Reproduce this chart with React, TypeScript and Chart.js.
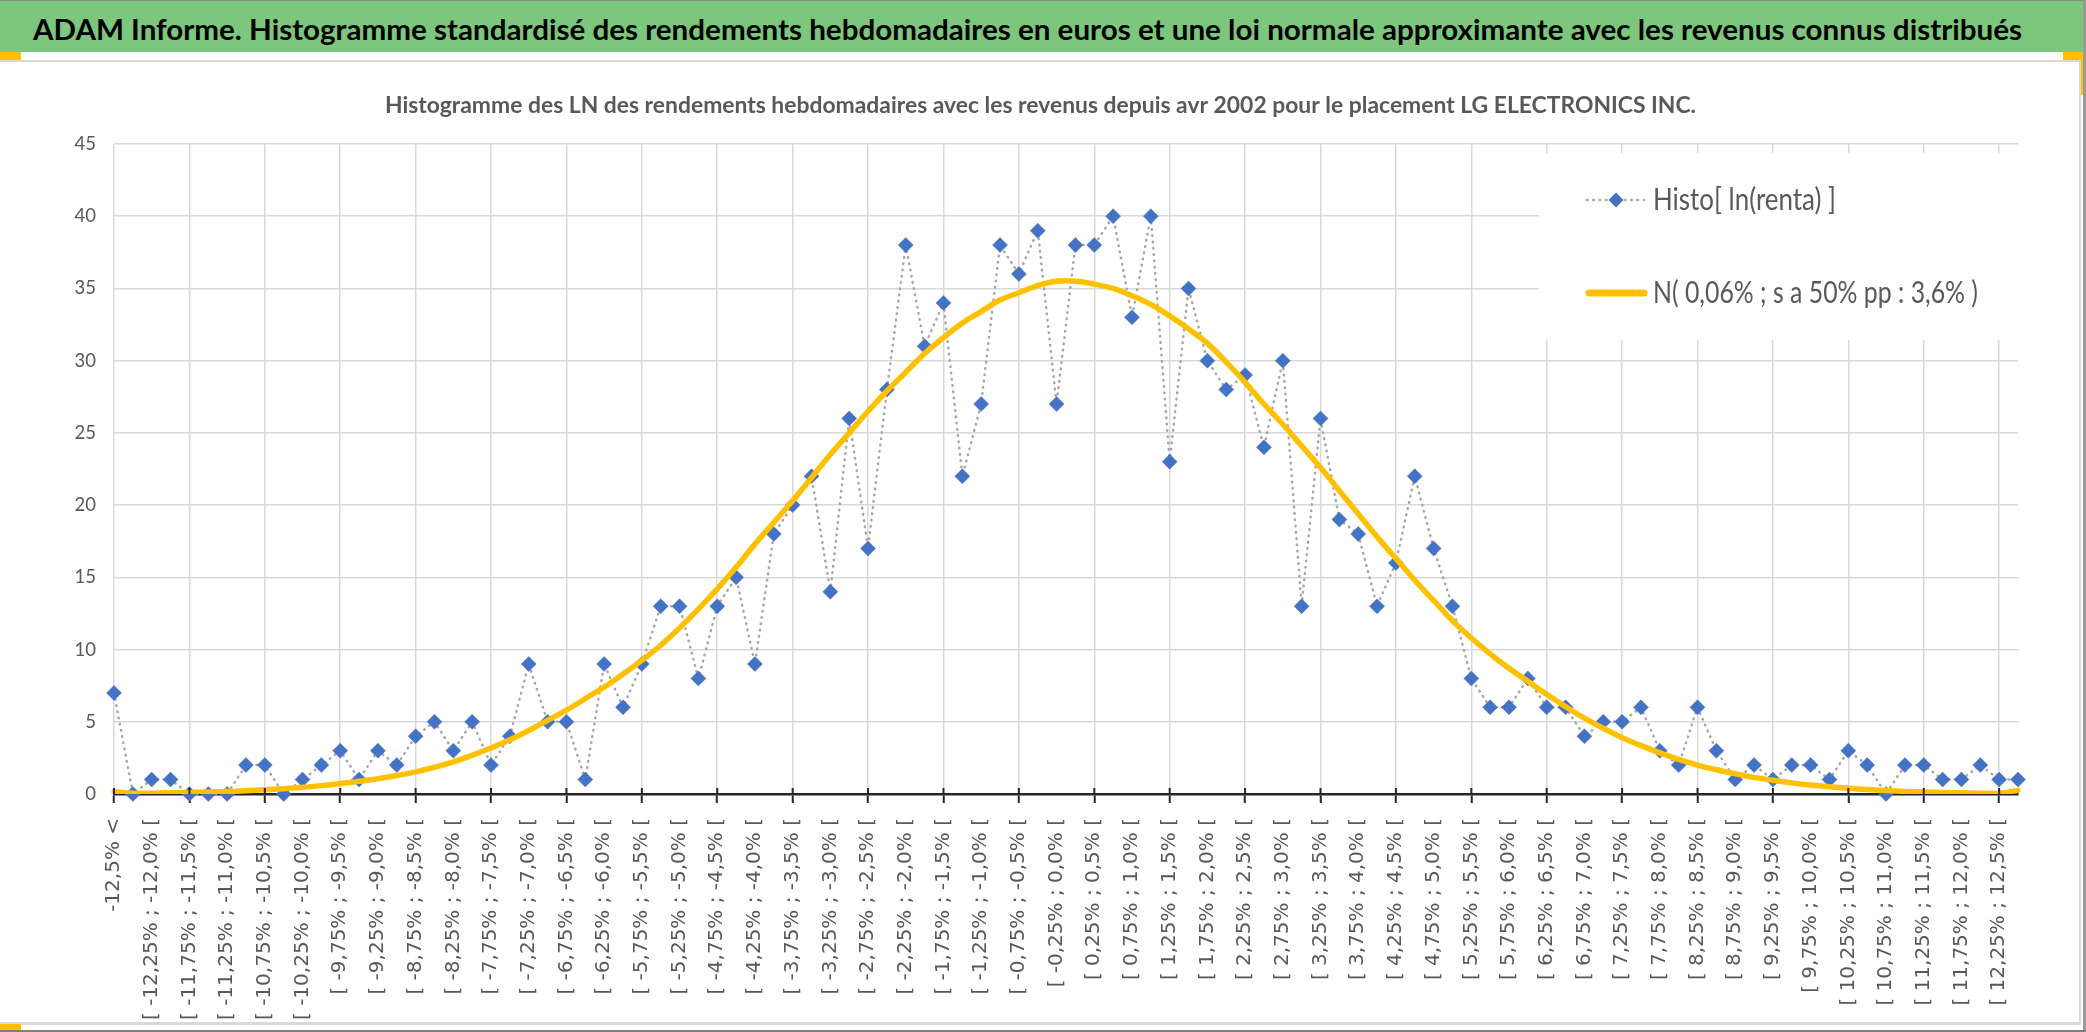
import React, { useEffect, useRef } from 'react';
import { Chart, registerables } from 'chart.js';

Chart.register(...registerables);

const TITLE =
  'ADAM Informe. Histogramme standardisé des rendements hebdomadaires en euros et une loi normale approximante avec les revenus connus distribués';
const SUBTITLE =
  'Histogramme des LN des rendements hebdomadaires avec les revenus depuis avr 2002 pour le placement LG ELECTRONICS INC.';
const SERIES_HISTO = 'Histo[ ln(renta) ]';
const SERIES_NORMAL = 'N( 0,06% ; s a 50% pp : 3,6% )';

const categories: string[] = [
  '-12,5% <',
  '[ -12,5% ; -12,25% [', '[ -12,25% ; -12,0% [', '[ -12,0% ; -11,75% [', '[ -11,75% ; -11,5% [',
  '[ -11,5% ; -11,25% [', '[ -11,25% ; -11,0% [', '[ -11,0% ; -10,75% [', '[ -10,75% ; -10,5% [',
  '[ -10,5% ; -10,25% [', '[ -10,25% ; -10,0% [', '[ -10,0% ; -9,75% [', '[ -9,75% ; -9,5% [',
  '[ -9,5% ; -9,25% [', '[ -9,25% ; -9,0% [', '[ -9,0% ; -8,75% [', '[ -8,75% ; -8,5% [',
  '[ -8,5% ; -8,25% [', '[ -8,25% ; -8,0% [', '[ -8,0% ; -7,75% [', '[ -7,75% ; -7,5% [',
  '[ -7,5% ; -7,25% [', '[ -7,25% ; -7,0% [', '[ -7,0% ; -6,75% [', '[ -6,75% ; -6,5% [',
  '[ -6,5% ; -6,25% [', '[ -6,25% ; -6,0% [', '[ -6,0% ; -5,75% [', '[ -5,75% ; -5,5% [',
  '[ -5,5% ; -5,25% [', '[ -5,25% ; -5,0% [', '[ -5,0% ; -4,75% [', '[ -4,75% ; -4,5% [',
  '[ -4,5% ; -4,25% [', '[ -4,25% ; -4,0% [', '[ -4,0% ; -3,75% [', '[ -3,75% ; -3,5% [',
  '[ -3,5% ; -3,25% [', '[ -3,25% ; -3,0% [', '[ -3,0% ; -2,75% [', '[ -2,75% ; -2,5% [',
  '[ -2,5% ; -2,25% [', '[ -2,25% ; -2,0% [', '[ -2,0% ; -1,75% [', '[ -1,75% ; -1,5% [',
  '[ -1,5% ; -1,25% [', '[ -1,25% ; -1,0% [', '[ -1,0% ; -0,75% [', '[ -0,75% ; -0,5% [',
  '[ -0,5% ; -0,25% [', '[ -0,25% ; 0,0% [', '[ 0,0% ; 0,25% [', '[ 0,25% ; 0,5% [',
  '[ 0,5% ; 0,75% [', '[ 0,75% ; 1,0% [', '[ 1,0% ; 1,25% [', '[ 1,25% ; 1,5% [',
  '[ 1,5% ; 1,75% [', '[ 1,75% ; 2,0% [', '[ 2,0% ; 2,25% [', '[ 2,25% ; 2,5% [',
  '[ 2,5% ; 2,75% [', '[ 2,75% ; 3,0% [', '[ 3,0% ; 3,25% [', '[ 3,25% ; 3,5% [',
  '[ 3,5% ; 3,75% [', '[ 3,75% ; 4,0% [', '[ 4,0% ; 4,25% [', '[ 4,25% ; 4,5% [',
  '[ 4,5% ; 4,75% [', '[ 4,75% ; 5,0% [', '[ 5,0% ; 5,25% [', '[ 5,25% ; 5,5% [',
  '[ 5,5% ; 5,75% [', '[ 5,75% ; 6,0% [', '[ 6,0% ; 6,25% [', '[ 6,25% ; 6,5% [',
  '[ 6,5% ; 6,75% [', '[ 6,75% ; 7,0% [', '[ 7,0% ; 7,25% [', '[ 7,25% ; 7,5% [',
  '[ 7,5% ; 7,75% [', '[ 7,75% ; 8,0% [', '[ 8,0% ; 8,25% [', '[ 8,25% ; 8,5% [',
  '[ 8,5% ; 8,75% [', '[ 8,75% ; 9,0% [', '[ 9,0% ; 9,25% [', '[ 9,25% ; 9,5% [',
  '[ 9,5% ; 9,75% [', '[ 9,75% ; 10,0% [', '[ 10,0% ; 10,25% [', '[ 10,25% ; 10,5% [',
  '[ 10,5% ; 10,75% [', '[ 10,75% ; 11,0% [', '[ 11,0% ; 11,25% [', '[ 11,25% ; 11,5% [',
  '[ 11,5% ; 11,75% [', '[ 11,75% ; 12,0% [', '[ 12,0% ; 12,25% [', '[ 12,25% ; 12,5% [',
  '12,5% >',
];

const histoValues: number[] = [
  7, 0, 1, 1, 0, 0, 0, 2, 2, 0,
  1, 2, 3, 1, 3, 2, 4, 5, 3, 5,
  2, 4, 9, 5, 5, 1, 9, 6, 9, 13,
  13, 8, 13, 15, 9, 18, 20, 22, 14, 26,
  17, 28, 38, 31, 34, 22, 27, 38, 36, 39,
  27, 38, 38, 40, 33, 40, 23, 35, 30, 28,
  29, 24, 30, 13, 26, 19, 18, 13, 16, 22,
  17, 13, 8, 6, 6, 8, 6, 6, 4, 5,
  5, 6, 3, 2, 6, 3, 1, 2, 1, 2,
  2, 1, 3, 2, 0, 2, 2, 1, 1, 2,
  1, 1,
];

const normalValues: number[] = [
  0.15, 0.05, 0.06, 0.08, 0.1, 0.13, 0.17, 0.22, 0.29, 0.37,
  0.46, 0.58, 0.72, 0.88, 1.06, 1.28, 1.53, 1.85, 2.22, 2.68,
  3.18, 3.75, 4.4, 5.1, 5.8, 6.6, 7.4, 8.3, 9.25, 10.3,
  11.5, 12.8, 14.2, 15.7, 17.3, 18.8, 20.3, 21.9, 23.5, 25.0,
  26.5, 27.9, 29.2, 30.5, 31.6, 32.6, 33.4, 34.2, 34.7, 35.2,
  35.5, 35.5, 35.3, 35.0, 34.5, 33.9, 33.1, 32.2, 31.2, 29.9,
  28.5, 27.0, 25.6, 24.1, 22.6, 21.0, 19.4, 17.8, 16.3, 14.8,
  13.4, 12.0, 10.8, 9.7, 8.7, 7.8, 6.9, 6.05, 5.25, 4.55,
  3.9, 3.35, 2.85, 2.4, 2.0, 1.68, 1.4, 1.15, 0.95, 0.77,
  0.62, 0.5, 0.4, 0.31, 0.24, 0.18, 0.14, 0.1, 0.08, 0.06,
  0.05, 0.25,
];

const yTicks = { min: 0, max: 45, step: 5 };

const GREEN = '#7DC67D';
const YELLOW = '#FFC000';
const BLUE = '#4472C4';
const DOT_GRAY = '#A6A6A6';
const TEXT_GRAY = '#595959';
const GRID = '#D9D9D9';
const AXIS = '#262626';

function fitText(
  ctx: CanvasRenderingContext2D,
  text: string,
  x: number,
  baseline: number,
  width: number,
  font: string,
  color: string
) {
  ctx.save();
  ctx.font = font;
  ctx.fillStyle = color;
  ctx.textAlign = 'left';
  ctx.textBaseline = 'alphabetic';
  const w = ctx.measureText(text).width;
  ctx.translate(x, baseline);
  ctx.scale(width / w, 1);
  ctx.fillText(text, 0, 0);
  ctx.restore();
}

const overlayPlugin = {
  id: 'overlay',
  afterDraw(chart: any) {
    const ctx: CanvasRenderingContext2D = chart.ctx;
    const xs = chart.scales.x;
    const area = chart.chartArea;
    // tick marks crossing above the axis
    ctx.save();
    ctx.strokeStyle = AXIS;
    ctx.lineWidth = 2;
    for (let i = 0; i < categories.length; i += 4) {
      const px = xs.getPixelForTick(i);
      ctx.beginPath();
      ctx.moveTo(px, area.bottom - 6);
      ctx.lineTo(px, area.bottom);
      ctx.stroke();
    }
    ctx.restore();

    // subtitle
    fitText(ctx, SUBTITLE, 385, 51, 1311, 'bold 23px Lato', TEXT_GRAY);

    // legend box
    ctx.save();
    ctx.fillStyle = '#ffffff';
    ctx.fillRect(1539, 91, 483, 187);

    // item 1 : dotted line + diamond
    ctx.strokeStyle = DOT_GRAY;
    ctx.lineWidth = 2.5;
    ctx.lineCap = 'round';
    ctx.setLineDash([0.6, 5.7]);
    ctx.beginPath();
    ctx.moveTo(1587, 138);
    ctx.lineTo(1644, 138);
    ctx.stroke();
    ctx.setLineDash([]);
    ctx.fillStyle = BLUE;
    ctx.beginPath();
    ctx.moveTo(1616 - 7.5, 138);
    ctx.lineTo(1616, 138 - 7.5);
    ctx.lineTo(1616 + 7.5, 138);
    ctx.lineTo(1616, 138 + 7.5);
    ctx.closePath();
    ctx.fill();

    // item 2 : yellow line
    ctx.strokeStyle = YELLOW;
    ctx.lineWidth = 7;
    ctx.lineCap = 'round';
    ctx.beginPath();
    ctx.moveTo(1589, 231);
    ctx.lineTo(1644, 231);
    ctx.stroke();
    ctx.restore();

    fitText(ctx, SERIES_HISTO, 1653, 148, 183, '31px Lato', TEXT_GRAY);
    fitText(ctx, SERIES_NORMAL, 1653, 241, 325, '30px Lato', TEXT_GRAY);
  },
};

export default function App() {
  const canvasRef = useRef<HTMLCanvasElement>(null);
  const titleRef = useRef<HTMLSpanElement>(null);

  useEffect(() => {
    const el = titleRef.current;
    if (el) {
      el.style.transform = 'none';
      const w = el.getBoundingClientRect().width;
      if (w > 0) el.style.transform = `scaleX(${1989 / w})`;
    }
  }, []);

  useEffect(() => {
    const canvas = canvasRef.current;
    if (!canvas) return;
    const chart = new Chart(canvas, {
      type: 'line',
      data: {
        labels: categories,
        datasets: [
          {
            label: SERIES_NORMAL,
            data: normalValues,
            borderColor: YELLOW,
            backgroundColor: YELLOW,
            borderWidth: 5.5,
            pointRadius: 0,
            pointHoverRadius: 0,
            tension: 0.4,
            fill: false,
            order: 0,
            borderCapStyle: 'round',
          },
          {
            label: SERIES_HISTO,
            data: histoValues,
            borderColor: DOT_GRAY,
            backgroundColor: BLUE,
            borderWidth: 2.5,
            borderDash: [0.6, 5.7],
            borderCapStyle: 'round',
            pointStyle: 'rectRot',
            pointRadius: 7.5,
            pointHoverRadius: 7.5,
            pointBackgroundColor: BLUE,
            pointBorderColor: BLUE,
            pointBorderWidth: 0.5,
            tension: 0,
            fill: false,
            order: 1,
            clip: false,
          },
        ],
      } as any,
      options: {
        responsive: false,
        animation: false,
        events: [],
        layout: { padding: { top: 82, right: 60, left: 0, bottom: 0 } },
        plugins: {
          legend: { display: false },
          tooltip: { enabled: false },
          title: { display: false },
        },
        scales: {
          x: {
            type: 'category',
            offset: false,
            grid: {
              color: (c: any) => (c.index % 4 === 0 ? GRID : 'rgba(0,0,0,0)'),
              lineWidth: 1.5,
              tickColor: (c: any) => (c.index % 4 === 0 ? AXIS : 'rgba(0,0,0,0)'),
              tickWidth: 2,
              tickLength: 9,
              drawTicks: true,
            },
            border: { display: true, color: AXIS, width: 2.5 },
            ticks: {
              autoSkip: false,
              maxRotation: 90,
              minRotation: 90,
              padding: 15,
              color: TEXT_GRAY,
              font: { family: 'DejaVu Sans', size: 20 },
              callback: (_v: any, i: number) => (i % 2 === 0 ? categories[i] : ''),
            },
            afterFit: (s: any) => {
              s.height = 228;
            },
          },
          y: {
            min: yTicks.min,
            max: yTicks.max,
            grid: { color: GRID, lineWidth: 1.5, drawTicks: false },
            border: { display: false },
            ticks: {
              stepSize: yTicks.step,
              padding: 18,
              color: TEXT_GRAY,
              font: { family: 'Lato', size: 18.5 },
            },
            afterFit: (s: any) => {
              s.width = 114;
            },
          },
        },
      } as any,
      plugins: [overlayPlugin],
    });
    return () => chart.destroy();
  }, []);

  return (
    <div
      style={{
        position: 'absolute',
        left: 0,
        top: 0,
        width: 2086,
        height: 1032,
        background: '#ffffff',
        overflow: 'hidden',
      }}
    >
      <div style={{ position: 'absolute', left: 0, top: 0, width: 2084, height: 1, background: '#8a8a8a' }} />
      <div
        style={{
          position: 'absolute',
          left: 0,
          top: 1,
          width: 2083,
          height: 51,
          background: GREEN,
          overflow: 'hidden',
        }}
      >
        <span
          ref={titleRef}
          style={{
            position: 'absolute',
            left: 33,
            top: 13,
            fontFamily: 'Lato',
            fontWeight: 700,
            fontSize: 29,
            lineHeight: '29px',
            color: '#000000',
            whiteSpace: 'nowrap',
            display: 'inline-block',
            transformOrigin: '0 0',
          }}
        >
          {TITLE}
        </span>
      </div>
      <div style={{ position: 'absolute', left: 2083, top: 0, width: 3, height: 1032, background: '#9a9a9a' }} />
      <div style={{ position: 'absolute', left: 0, top: 52, width: 21, height: 8, background: YELLOW }} />
      <div style={{ position: 'absolute', left: 2063, top: 52, width: 20, height: 8, background: YELLOW }} />
      <div style={{ position: 'absolute', left: 2080, top: 52, width: 3, height: 43, background: YELLOW }} />
      <div style={{ position: 'absolute', left: 0, top: 60, width: 2081, height: 2, background: GRID }} />
      <div style={{ position: 'absolute', left: 2079, top: 60, width: 2, height: 965, background: GRID }} />
      <div style={{ position: 'absolute', left: 0, top: 1022, width: 2081, height: 3, background: GRID }} />
      <div style={{ position: 'absolute', left: 0, top: 1024, width: 21, height: 6, background: YELLOW }} />
      <div style={{ position: 'absolute', left: 0, top: 1030, width: 2086, height: 2, background: '#7f7f7f' }} />
      <canvas
        ref={canvasRef}
        width={2078}
        height={960}
        style={{ position: 'absolute', left: 0, top: 62, width: 2078, height: 960 }}
      />
    </div>
  );
}
